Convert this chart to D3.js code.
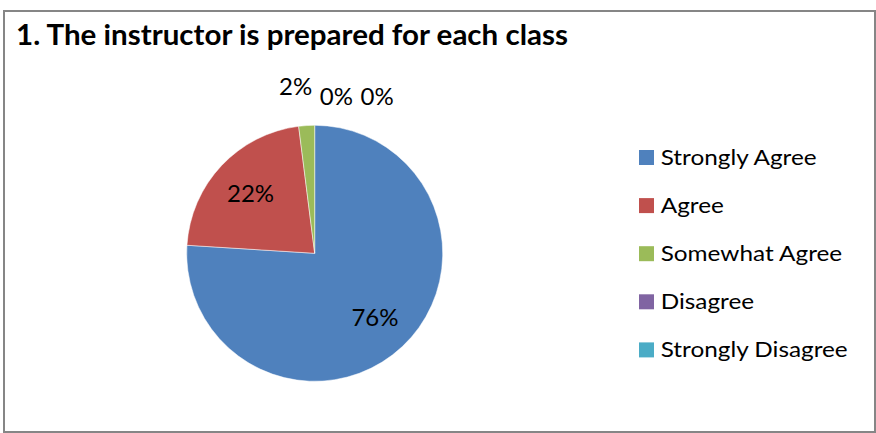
<!DOCTYPE html>
<html>
<head>
<meta charset="utf-8">
<script src="https://cdn.jsdelivr.net/npm/d3@7"></script>
<style>
  html, body { margin: 0; padding: 0; background: #fff; }
  svg { display: block; }
  text { font-family: Lato, "Open Sans", "Liberation Sans", sans-serif; fill: #000; }
</style>
</head>
<body>
<svg id="chart" width="876" height="433"></svg>
<script>
// Survey responses for question 1
const title = "1. The instructor is prepared for each class";
const categories = ["Strongly Agree", "Agree", "Somewhat Agree", "Disagree", "Strongly Disagree"];
const shares = [76, 22, 2, 0, 0];
const colors = ["#4F81BD", "#C0504D", "#9BBB59", "#8064A2", "#4BACC6"];

const svg = d3.select("#chart");

// Frame
svg.append("rect")
  .attr("x", 4).attr("y", 11)
  .attr("width", 871).attr("height", 421)
  .attr("fill", "#fff")
  .attr("stroke", "#868686")
  .attr("stroke-width", 2);

// Title
svg.append("text")
  .attr("x", 16).attr("y", 45)
  .attr("font-size", 28.5)
  .attr("font-weight", "bold")
  .attr("textLength", 552)
  .attr("lengthAdjust", "spacingAndGlyphs")
  .text(title);

// Pie
const cx = 314.7, cy = 253.3, R = 128;
const data = categories.map((c, i) => ({ name: c, value: shares[i], color: colors[i] }));
const pie = d3.pie().value(d => d.value).sort(null);
const arcs = pie(data);
const arc = d3.arc().innerRadius(0).outerRadius(R);
const labelArc = d3.arc().innerRadius(88).outerRadius(88);

const g = svg.append("g").attr("transform", `translate(${cx},${cy})`);
g.selectAll("path.slice")
  .data(arcs.filter(a => a.data.value > 0))
  .join("path")
  .attr("class", "slice")
  .attr("d", arc)
  .attr("fill", d => d.data.color)
  .attr("stroke", "#fff")
  .attr("stroke-width", 0.5);

// Labels inside the larger slices
const fmt = v => v + "%";
arcs.filter(a => a.data.value >= 5).forEach(a => {
  const [x, y] = labelArc.centroid(a);
  g.append("text")
    .attr("x", x).attr("y", y)
    .attr("dy", "0.36em")
    .attr("text-anchor", "middle")
    .attr("font-size", 24)
    .text(fmt(a.data.value));
});

// Small slices: labels set outside, spread in a row above the top of the pie
arcs.filter(a => a.data.value < 5).forEach((a, k) => {
  g.append("text")
    .attr("x", -19 + k * 40.7)
    .attr("y", -R + (k === 0 ? -30 : -20.5))
    .attr("text-anchor", "middle")
    .attr("font-size", 24)
    .text(fmt(a.data.value));
});

// Legend
const legend = svg.append("g").attr("transform", "translate(639,157.5)");
const item = legend.selectAll("g.item")
  .data(data)
  .join("g")
  .attr("class", "item")
  .attr("transform", (d, i) => `translate(0,${i * 48.1})`);
item.append("rect")
  .attr("x", 0).attr("y", -7.5)
  .attr("width", 15).attr("height", 15)
  .attr("fill", d => d.color);
const labels = item.append("text")
  .attr("x", 21.7).attr("y", 7.5)
  .attr("font-size", 22)
  .text(d => d.name);

// widen all legend labels by one common factor so the longest spans 187px
const widths = labels.nodes().map(n => n.getComputedTextLength());
const stretch = 187 / d3.max(widths);
labels.each(function(d, i) {
  d3.select(this).attr("textLength", widths[i] * stretch).attr("lengthAdjust", "spacingAndGlyphs");
});
</script>
</body>
</html>
